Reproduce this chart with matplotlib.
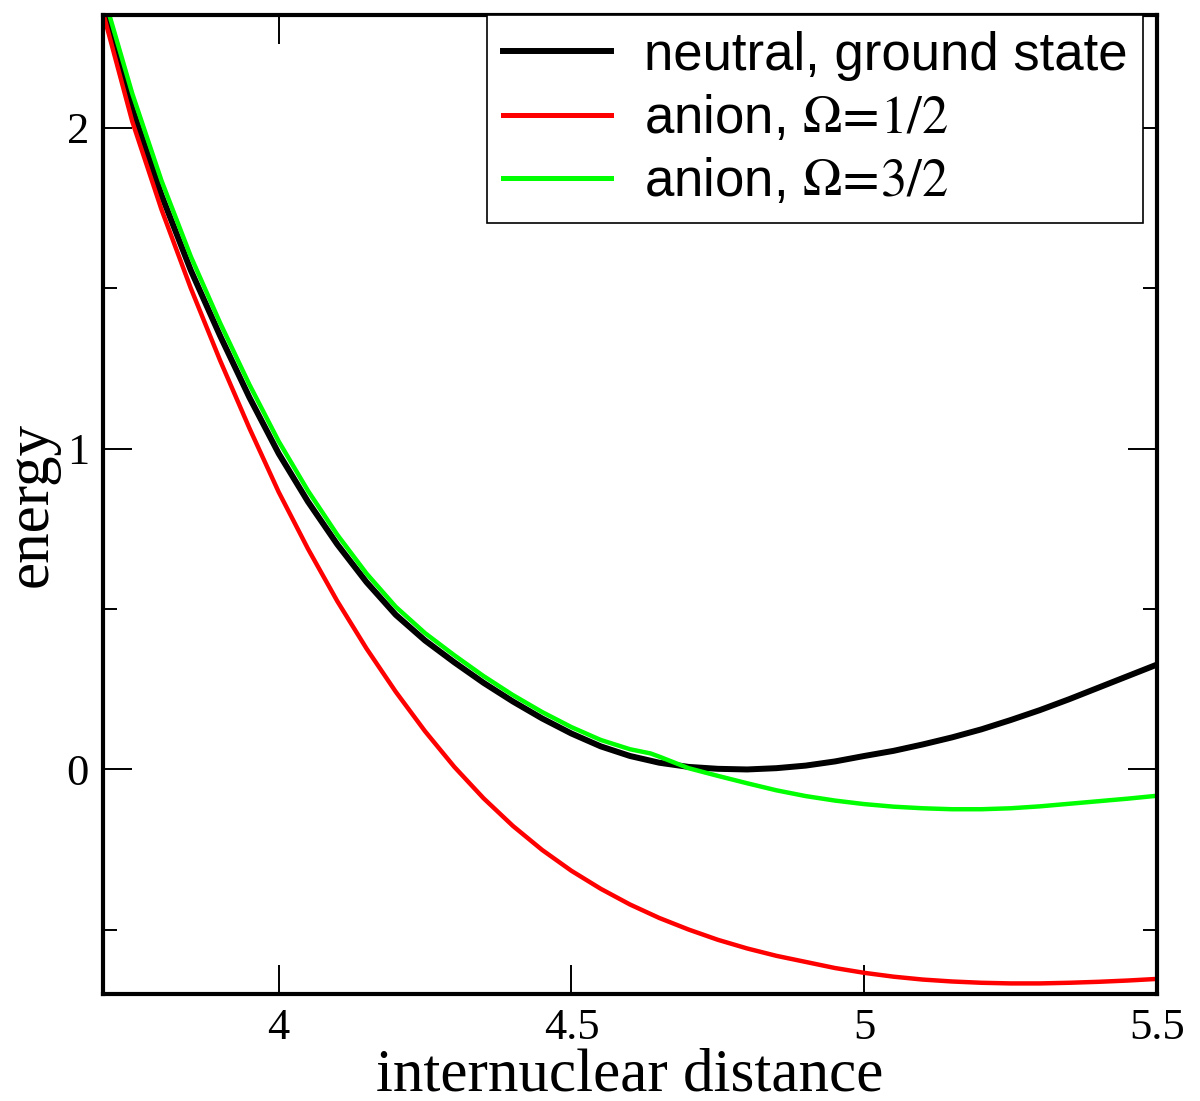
import matplotlib
matplotlib.use("Agg")
import matplotlib.pyplot as plt
from matplotlib.ticker import MultipleLocator, FuncFormatter

# Potential energy curves
x_neutral = [3.70, 3.75, 3.80, 3.85, 3.90, 3.95, 4.00, 4.05, 4.10, 4.15, 4.20,
             4.25, 4.30, 4.35, 4.40, 4.45, 4.50, 4.55, 4.60, 4.65, 4.70, 4.75,
             4.80, 4.85, 4.90, 4.95, 5.00, 5.05, 5.10, 5.15, 5.20, 5.25, 5.30,
             5.35, 5.40, 5.45, 5.50]
e_neutral = [2.37, 2.06, 1.79, 1.556, 1.352, 1.160, 0.985, 0.835, 0.702, 0.584,
             0.482, 0.402, 0.334, 0.270, 0.212, 0.159, 0.112, 0.072, 0.042,
             0.021, 0.008, 0.002, 0.000, 0.004, 0.012, 0.025, 0.042, 0.058,
             0.078, 0.100, 0.125, 0.154, 0.185, 0.219, 0.255, 0.291, 0.327]

x_half = [3.70, 3.75, 3.80, 3.85, 3.90, 3.95, 4.00, 4.05, 4.10, 4.15, 4.20,
          4.25, 4.30, 4.35, 4.40, 4.45, 4.50, 4.55, 4.60, 4.65, 4.70, 4.75,
          4.80, 4.85, 4.90, 4.95, 5.00, 5.05, 5.10, 5.15, 5.20, 5.25, 5.30,
          5.35, 5.40, 5.45, 5.50]
e_half = [2.36, 2.02, 1.745, 1.50, 1.275, 1.064, 0.865, 0.688, 0.525, 0.377,
          0.242, 0.119, 0.008, -0.090, -0.176, -0.251, -0.316, -0.372,
          -0.421, -0.463, -0.499, -0.531, -0.558, -0.581, -0.600, -0.619,
          -0.634, -0.646, -0.655, -0.661, -0.665, -0.667, -0.667, -0.665,
          -0.662, -0.658, -0.653]

x_three_half = [3.70, 3.75, 3.80, 3.85, 3.90, 3.95, 4.00, 4.05, 4.10, 4.15,
                4.20, 4.25, 4.30, 4.35, 4.40, 4.45, 4.50, 4.55, 4.60, 4.635,
                4.65, 4.70, 4.75, 4.80, 4.85, 4.90, 4.95, 5.00, 5.05, 5.10,
                5.15, 5.20, 5.25, 5.30, 5.35, 5.40, 5.45, 5.50]
e_three_half = [2.42, 2.107, 1.835, 1.599, 1.392, 1.200, 1.023, 0.869, 0.732,
                0.611, 0.507, 0.425, 0.356, 0.291, 0.232, 0.179, 0.132,
                0.092, 0.063, 0.050, 0.040, 0.004, -0.020, -0.043, -0.065,
                -0.083, -0.097, -0.108, -0.116, -0.121, -0.124, -0.124,
                -0.121, -0.115, -0.107, -0.099, -0.091, -0.082]

labels = ["neutral, ground state",
          r"anion, $\Omega\!=\!1/2$",
          r"anion, $\Omega\!=\!3/2$"]

plt.rcParams["mathtext.fontset"] = "stix"

fig = plt.figure(figsize=(12, 11.01), dpi=100)
ax = fig.add_axes([103 / 1200, 107 / 1101, 1054 / 1200, 979 / 1101])

ax.plot(x_neutral, e_neutral, color="black", lw=4.3, label=labels[0],
        solid_joinstyle="round")
ax.plot(x_half, e_half, color="#ff0000", lw=3.2, label=labels[1],
        solid_joinstyle="round")
ax.plot(x_three_half, e_three_half, color="#00ff00", lw=3.2, label=labels[2],
        solid_joinstyle="round")

ax.set_xlim(3.7, 5.5)
ax.set_ylim(-0.7, 2.352)
ax.xaxis.set_major_locator(MultipleLocator(0.5))
ax.yaxis.set_major_locator(MultipleLocator(1))
ax.yaxis.set_minor_locator(MultipleLocator(0.5))
ax.xaxis.set_major_formatter(FuncFormatter(lambda v, p: f"{v:g}"))

for s in ax.spines.values():
    s.set_linewidth(3)
ax.tick_params(which="both", direction="in", top=True, right=True, width=1.4)
ax.tick_params(which="major", length=21, pad=10)
ax.tick_params(which="minor", length=10)
for t in ax.get_xticklabels() + ax.get_yticklabels():
    t.set_fontfamily("Liberation Serif")
    t.set_fontsize(32)

ax.set_xlabel("internuclear distance", fontfamily="Liberation Serif",
              fontsize=44, labelpad=0)
ax.set_ylabel("energy", fontfamily="Liberation Serif", fontsize=44,
              labelpad=5)

leg = ax.legend(loc="upper right", bbox_to_anchor=(1143 / 1200, 1086 / 1101),
                bbox_transform=fig.transFigure, borderaxespad=0,
                prop={"family": "Liberation Sans", "size": 38},
                handlelength=2.05, handletextpad=0.62, labelspacing=0.25,
                borderpad=0.3, fancybox=False, framealpha=1,
                edgecolor="black")
leg.get_frame().set_linewidth(1.2)
for line in leg.get_lines():
    line.set_linewidth(4.3 if line.get_color() == "black" else 3.6)

fig.savefig("out.png", dpi=100)
